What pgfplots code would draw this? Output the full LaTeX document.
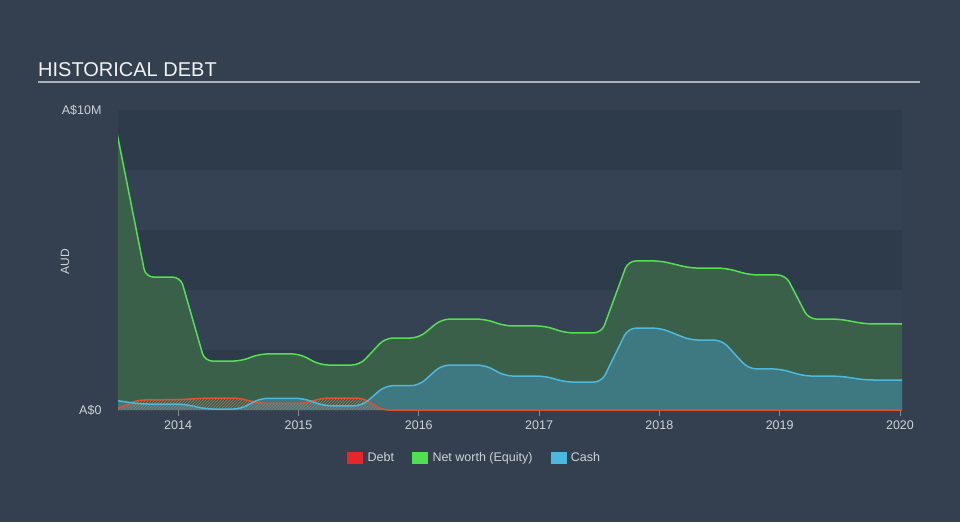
\documentclass[border=0pt]{standalone}
\usepackage{pgfplots}
\pgfplotsset{compat=1.18}
\usepackage{fontspec}
\setmainfont{Liberation Sans}
\usetikzlibrary{patterns}
\definecolor{bgcol}{RGB}{52,64,80}
\definecolor{banddark}{RGB}{46,59,75}
\definecolor{bandlight}{RGB}{52,66,83}
\definecolor{eqline}{RGB}{84,224,80}
\definecolor{eqfill}{RGB}{59,96,74}
\definecolor{cashline}{RGB}{77,184,222}
\definecolor{cashfill}{RGB}{62,120,128}
\definecolor{debtline}{RGB}{226,81,47}
\definecolor{debthatch}{RGB}{165,120,105}
\definecolor{legred}{RGB}{232,37,42}
\definecolor{leggreen}{RGB}{78,224,78}
\definecolor{legblue}{RGB}{75,184,224}
\definecolor{txtgray}{RGB}{205,210,216}
\definecolor{titlecol}{RGB}{240,242,244}
\definecolor{rulecol}{RGB}{170,176,184}
\definecolor{tickcol}{RGB}{130,140,152}
\begin{document}
\begin{tikzpicture}
\fill[bgcol] (0pt,0pt) rectangle (960pt,522pt);
\node[anchor=west, inner sep=0pt, text=titlecol, font=\fontsize{20}{24}\selectfont] at (38pt,452pt) {HISTORICAL DEBT};
\draw[rulecol, line width=1.5pt] (38pt,440pt) -- (920pt,440pt);
\node[rotate=90, text=txtgray, font=\fontsize{12}{14}\selectfont] at (65pt,260pt) {AUD};
\begin{axis}[
  at={(118pt,112pt)}, anchor=south west,
  scale only axis, width=784pt, height=300pt,
  xmin=2013.5, xmax=2020.017, ymin=0, ymax=10,
  axis x line*=bottom, axis y line*=left,
  axis line style={draw=none},
  xtick={2014,2015,2016,2017,2018,2019,2020},
  xticklabels={2014,2015,2016,2017,2018,2019,2020},
  ytick={0,10}, yticklabels={A\$0,A\$10M},
  tick align=outside,
  x tick style={draw=tickcol, line width=0.8pt},
  major tick length=6pt,
  y tick style={draw=none},
  ticklabel style={text=txtgray, font=\fontsize{12.5}{14}\selectfont},
  xticklabel style={yshift=-1pt},
  yticklabel style={xshift=-7pt},
  /pgf/number format/assume math mode=true,
  legend style={at={(0.455,-0.16)}, anchor=center, draw=none, fill=none,
    legend columns=3, text=txtgray, font=\fontsize{12.5}{14}\selectfont,
    /tikz/every odd column/.append style={column sep=3pt},
    /tikz/every even column/.append style={column sep=16pt}},
]
\fill[banddark] (axis cs:2013.5,0) rectangle (axis cs:2020.017,2);
\fill[bandlight] (axis cs:2013.5,2) rectangle (axis cs:2020.017,4);
\fill[banddark] (axis cs:2013.5,4) rectangle (axis cs:2020.017,6);
\fill[bandlight] (axis cs:2013.5,6) rectangle (axis cs:2020.017,8);
\fill[banddark] (axis cs:2013.5,8) rectangle (axis cs:2020.017,10);

\pgfplotstableread{
x y
2013.40 11.07
2013.50 9.07
2013.73 4.43
2014.02 4.43
2014.22 1.63
2014.52 1.63
2014.68 1.87
2015.01 1.87
2015.18 1.50
2015.51 1.50
2015.72 2.40
2016.00 2.40
2016.19 3.03
2016.55 3.03
2016.72 2.80
2017.05 2.80
2017.22 2.57
2017.52 2.57
2017.74 4.97
2018.01 4.97
2018.26 4.73
2018.55 4.73
2018.76 4.50
2019.05 4.50
2019.24 3.03
2019.50 3.03
2019.71 2.87
2020.15 2.87
}\equity
\pgfplotstableread{
x y
2013.40 0.36
2013.50 0.31
2013.68 0.20
2014.04 0.20
2014.24 0.03
2014.52 0.03
2014.68 0.39
2015.04 0.39
2015.21 0.14
2015.53 0.14
2015.72 0.81
2016.00 0.81
2016.19 1.50
2016.55 1.50
2016.72 1.13
2017.05 1.13
2017.22 0.93
2017.52 0.93
2017.74 2.73
2018.01 2.73
2018.26 2.33
2018.52 2.33
2018.74 1.37
2019.00 1.37
2019.21 1.13
2019.50 1.13
2019.71 1.00
2020.15 1.00
}\cash
\pgfplotstableread{
x y
2013.40 0.00
2013.50 0.05
2013.66 0.33
2014.04 0.35
2014.24 0.40
2014.50 0.40
2014.68 0.22
2015.04 0.22
2015.21 0.40
2015.53 0.40
2015.70 0.00
2020.15 0.00
}\debt

\addplot[forget plot, draw=none, fill=eqfill, rounded corners=8pt] table {\equity} \closedcycle;
\addplot[forget plot, draw=none, fill=cashfill, rounded corners=8pt] table {\cash} \closedcycle;
\addplot[forget plot, draw=none, pattern=north east lines, pattern color=debthatch, rounded corners=6pt] table {\debt} \closedcycle;
\addplot[forget plot, debtline, line width=1.5pt, rounded corners=6pt] table {\debt};
\addplot[forget plot, cashline, line width=1.5pt, rounded corners=8pt] table {\cash};
\addplot[forget plot, eqline, line width=1.5pt, rounded corners=8pt] table {\equity};

\addlegendimage{legend image code/.code={\fill[legred] (0pt,-5.5pt) rectangle (15pt,5.5pt);}}
\addlegendentry{Debt}
\addlegendimage{legend image code/.code={\fill[leggreen] (0pt,-5.5pt) rectangle (15pt,5.5pt);}}
\addlegendentry{Net worth (Equity)}
\addlegendimage{legend image code/.code={\fill[legblue] (0pt,-5.5pt) rectangle (15pt,5.5pt);}}
\addlegendentry{Cash}
\end{axis}
\end{tikzpicture}
\end{document}
